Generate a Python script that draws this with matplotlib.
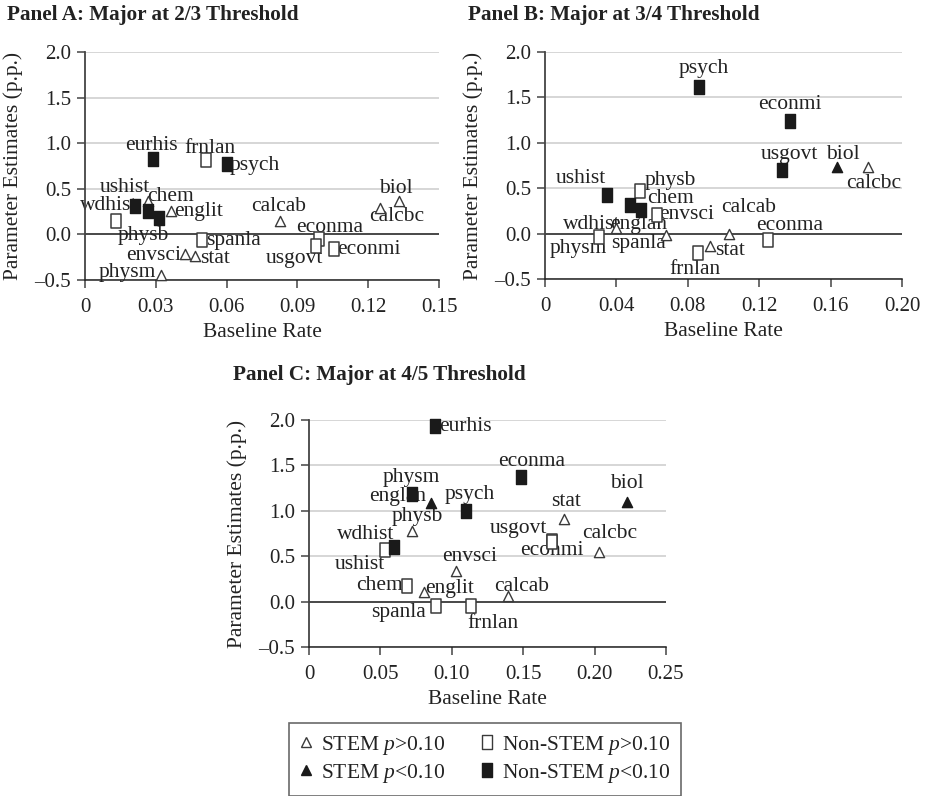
import matplotlib.pyplot as plt
from matplotlib.lines import Line2D
from matplotlib.path import Path

plt.rcParams['font.family'] = ['Liberation Serif', 'DejaVu Serif']
plt.rcParams['mathtext.fontset'] = 'custom'
plt.rcParams['mathtext.rm'] = 'Liberation Serif'
plt.rcParams['mathtext.it'] = 'Liberation Serif:italic'

# kind: 0 = STEM p>0.10, 1 = STEM p<0.10, 2 = Non-STEM p>0.10, 3 = Non-STEM p<0.10
a_names = ['eurhis', 'frnlan', 'psych', 'ushist', 'chem', 'wdhist', 'physb', 'englan',
           'englit', 'calcab', 'biol', 'calcbc', 'econma', 'usgovt', 'econmi', 'spanla',
           'envsci', 'stat', 'physm']
a_x = [0.0289, 0.0511, 0.0600, 0.0212, 0.0265, 0.0131, 0.0265, 0.0312,
       0.0364, 0.0826, 0.1329, 0.1249, 0.0990, 0.0980, 0.1055, 0.0494,
       0.0425, 0.0466, 0.0322]
a_y = [0.83, 0.82, 0.77, 0.31, 0.37, 0.15, 0.26, 0.18,
       0.26, 0.15, 0.37, 0.29, -0.05, -0.13, -0.16, -0.06,
       -0.21, -0.24, -0.44]
a_kind = [3, 2, 3, 3, 0, 2, 3, 3, 0, 0, 0, 0, 2, 2, 2, 2, 0, 0, 0]

b_names = ['psych', 'econmi', 'usgovt', 'biol', 'calcbc', 'ushist', 'physb', 'chem',
           'envsci', 'wdhist', 'englan', 'spanla', 'calcab', 'econma', 'physm', 'stat',
           'frnlan']
b_x = [0.0865, 0.1370, 0.1330, 0.1636, 0.1810, 0.0350, 0.0530, 0.0540,
       0.0626, 0.0400, 0.0478, 0.0680, 0.1030, 0.1247, 0.0305, 0.0925,
       0.0858]
b_y = [1.62, 1.24, 0.70, 0.73, 0.73, 0.43, 0.47, 0.26,
       0.21, 0.06, 0.31, -0.01, 0.00, -0.07, -0.04, -0.14,
       -0.21]
b_kind = [3, 3, 3, 1, 0, 3, 2, 3, 2, 0, 3, 0, 0, 2, 2, 0, 2]

c_names = ['eurhis', 'econma', 'biol', 'englan', 'physm', 'psych', 'stat', 'physb',
           'usgovt', 'econmi', 'calcbc', 'wdhist', 'ushist', 'envsci', 'chem', 'englit',
           'calcab', 'spanla', 'frnlan']
c_x = [0.0883, 0.1486, 0.2224, 0.0720, 0.0857, 0.1100, 0.1787, 0.0720,
       0.1700, 0.1700, 0.2030, 0.0596, 0.0530, 0.1026, 0.0689, 0.0804,
       0.1397, 0.0886, 0.1133]
c_y = [1.93, 1.37, 1.10, 1.18, 1.09, 1.00, 0.91, 0.78,
       0.67, 0.66, 0.55, 0.60, 0.57, 0.34, 0.17, 0.11,
       0.06, -0.05, -0.05]
c_kind = [3, 3, 1, 3, 1, 3, 0, 0, 2, 2, 0, 3, 2, 0, 2, 0, 0, 2, 2]

y_ticks = [-0.5, 0.0, 0.5, 1.0, 1.5, 2.0]
y_ticklabels = ['\u20130.5', '0.0', '0.5', '1.0', '1.5', '2.0']
a_xticks = [0, 0.03, 0.06, 0.09, 0.12, 0.15]
a_xticklabels = ['0', '0.03', '0.06', '0.09', '0.12', '0.15']
b_xticks = [0, 0.04, 0.08, 0.12, 0.16, 0.20]
b_xticklabels = ['0', '0.04', '0.08', '0.12', '0.16', '0.20']
c_xticks = [0, 0.05, 0.10, 0.15, 0.20, 0.25]
c_xticklabels = ['0', '0.05', '0.10', '0.15', '0.20', '0.25']

# label offsets in pixels (dx, dy) relative to each marker
a_off = {'eurhis': (-2, 13), 'frnlan': (4, 11), 'psych': (28, -1), 'ushist': (-10, 19),
         'chem': (23, 4), 'wdhist': (-7, 15), 'physb': (-4, -25), 'englan': None,
         'englit': (28, -1), 'calcab': (-1, 14), 'biol': (-3, 12), 'calcbc': (17, -9),
         'econma': (11, 11), 'usgovt': (-22, -12), 'econmi': (35, -1), 'spanla': (32, -1),
         'envsci': (-32, -2), 'stat': (20, -2), 'physm': (-34, 2)}
b_off = {'psych': (4, 18), 'econmi': (0, 17), 'usgovt': (7, 16), 'biol': (6, 13),
         'calcbc': (6, -16), 'ushist': (-27, 16), 'physb': (31, 10), 'chem': (29, 11),
         'envsci': (30, 0), 'wdhist': (-25, 4), 'englan': (8, -19), 'spanla': (-28, -9),
         'calcab': (20, 26), 'econma': (22, 14), 'physm': (-21, -11), 'stat': (20, -4),
         'frnlan': (-3, -17)}
c_off = {'eurhis': (30, 0), 'econma': (10, 16), 'biol': (0, 18), 'englan': (-14, -2),
         'physm': (-20, 25), 'psych': (4, 16), 'stat': (2, 17), 'physb': (5, 14),
         'usgovt': (-33, 12), 'econmi': (0, -9), 'calcbc': (11, 18), 'wdhist': (-28, 13),
         'ushist': (-25, -15), 'envsci': (14, 14), 'chem': (-28, 1), 'englit': (26, 3),
         'calcab': (13, 10), 'spanla': (-37, -6), 'frnlan': (22, -17)}

rect = Path([(-0.35, -0.5), (0.35, -0.5), (0.35, 0.5), (-0.35, 0.5), (-0.35, -0.5)],
            [Path.MOVETO, Path.LINETO, Path.LINETO, Path.LINETO, Path.CLOSEPOLY])
dark = '#1a1a1a'
edge = '#3a3a3a'
styles = {0: dict(marker='^', s=54, facecolor='white', edgecolor=edge, linewidths=1.0),
          1: dict(marker='^', s=54, facecolor=dark, edgecolor=dark, linewidths=1.0),
          2: dict(marker=rect, s=92, facecolor='white', edgecolor=edge, linewidths=1.1),
          3: dict(marker=rect, s=92, facecolor=dark, edgecolor=dark, linewidths=1.0)}

fig = plt.figure(figsize=(9.25, 7.96), dpi=100)


def panel(rect_px, names, xs, ys, kinds, offsets, xlim, xticks, xticklabels, title, title_px):
    l, t, r, b = rect_px
    ax = fig.add_axes([l / 925, 1 - b / 796, (r - l) / 925, (b - t) / 796])
    ax.set_xlim(*xlim)
    ax.set_ylim(-0.5, 2.0)
    ax.set_yticks(y_ticks)
    ax.set_yticklabels(y_ticklabels)
    ax.set_xticks(xticks)
    ax.set_xticklabels(xticklabels)
    ax.yaxis.grid(True, color='#d3d3d3', lw=1.3)
    ax.set_axisbelow(True)
    ax.axhline(0, color='#222222', lw=1.1, zorder=1)
    for s in ['top', 'right']:
        ax.spines[s].set_visible(False)
    ax.spines['left'].set_color('#444444')
    ax.spines['left'].set_linewidth(1.3)
    ax.spines['bottom'].set_color('#222222')
    ax.spines['bottom'].set_linewidth(1.1)
    ax.tick_params(direction='out', length=6, width=1.1, color='#444444',
                   labelsize=15, labelcolor='#222222', pad=4)
    ax.tick_params(axis='x', pad=7)
    for k in range(4):
        px = [x for x, kk in zip(xs, kinds) if kk == k]
        py = [y for y, kk in zip(ys, kinds) if kk == k]
        if px:
            ax.scatter(px, py, zorder=3, clip_on=False, **styles[k])
    for n, x, y in zip(names, xs, ys):
        off = offsets.get(n)
        if off is None:
            continue
        ax.annotate(n, (x, y), xytext=off, textcoords='offset pixels', ha='center',
                    va='center', fontsize=15.5, color='#222222', zorder=2)
    ax.set_xlabel('Baseline Rate', fontsize=15.5, color='#222222', labelpad=4)
    ax.set_ylabel('Parameter Estimates (p.p.)', fontsize=15.5, color='#222222', labelpad=8)
    fig.text(title_px[0] / 925, 1 - title_px[1] / 796, title, fontsize=15.2,
             fontweight='bold', ha='left', va='center', color='#222222')
    return ax


panel((85, 52, 439, 280), a_names, a_x, a_y, a_kind, a_off, (0, 0.15),
      a_xticks, a_xticklabels, 'Panel A: Major at 2/3 Threshold', (7, 15))
panel((545, 52, 902, 279), b_names, b_x, b_y, b_kind, b_off, (0, 0.20),
      b_xticks, b_xticklabels, 'Panel B: Major at 3/4 Threshold', (468, 15))
panel((309, 420, 666, 647), c_names, c_x, c_y, c_kind, c_off, (0, 0.25),
      c_xticks, c_xticklabels, 'Panel C: Major at 4/5 Threshold', (233, 375))

handles = [Line2D([], [], ls='none', marker='^', ms=7, mfc='white', mec=edge),
           Line2D([], [], ls='none', marker='^', ms=7, mfc=dark, mec=dark),
           Line2D([], [], ls='none', marker=rect, ms=9.5, mfc='white', mec=edge),
           Line2D([], [], ls='none', marker=rect, ms=9.5, mfc=dark, mec=dark)]
labels = ['STEM $p$>0.10', 'STEM $p$<0.10', 'Non-STEM $p$>0.10', 'Non-STEM $p$<0.10']
leg = fig.legend(handles, labels, ncol=2, loc='upper center',
                 bbox_to_anchor=(485 / 925, 1 - 712 / 796), fontsize=15.5,
                 frameon=True, fancybox=False, edgecolor='#444444',
                 handlelength=0.6, handletextpad=0.4, columnspacing=1.6,
                 labelspacing=0.25, borderpad=0.5)
leg.get_frame().set_linewidth(1.2)
for t in leg.get_texts():
    t.set_color('#222222')

fig.savefig('out.png', dpi=100)
